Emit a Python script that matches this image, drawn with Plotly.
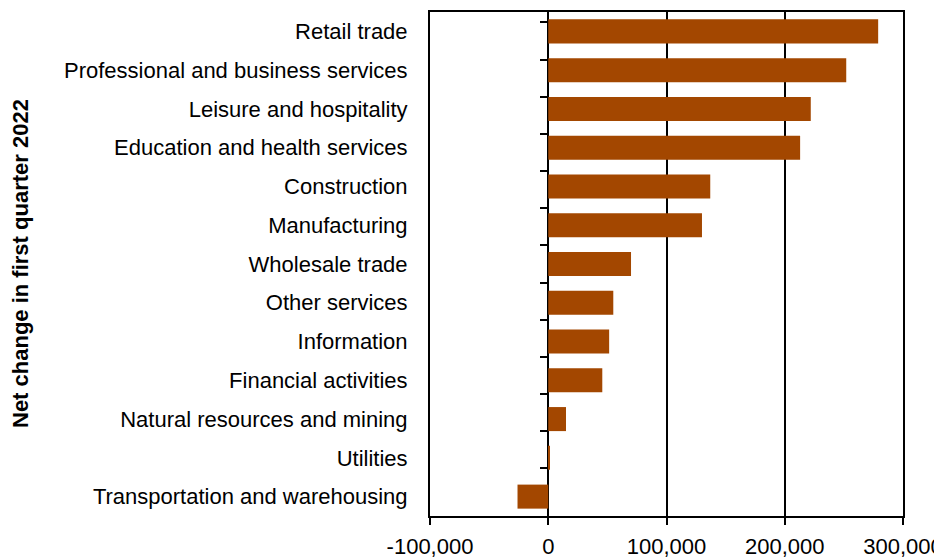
import plotly.graph_objects as go

categories = [
    "Retail trade",
    "Professional and business services",
    "Leisure and hospitality",
    "Education and health services",
    "Construction",
    "Manufacturing",
    "Wholesale trade",
    "Other services",
    "Information",
    "Financial activities",
    "Natural resources and mining",
    "Utilities",
    "Transportation and warehousing",
]
net_change = [279000, 252000, 222000, 213000, 137000, 130000, 70000,
              55000, 51500, 45700, 15000, 1000, -26000]
x_tick_vals = [-100000, 0, 100000, 200000, 300000]
x_tick_text = ["-100,000", "0", "100,000", "200,000", "300,000"]
y_title = "Net change in first quarter 2022"

FONT = "Liberation Sans, Arial, sans-serif"
BAR_COLOR = "#A34700"

# the page body has a default 8px margin, so the figure is offset by 8px
OFF = 8
W, H = 942 - OFF, 560 - OFF
L, T = 430 - OFF, 12 - OFF
R, B = 39, 44
plot_w = W - L - R

fig = go.Figure()
fig.add_trace(go.Bar(
    x=net_change, y=categories, orientation="h",
    marker=dict(color=BAR_COLOR, line=dict(width=0)),
    hoverinfo="x+y", showlegend=False,
))
# invisible trace to drive the tick axis drawn at the zero line
fig.add_trace(go.Scatter(
    x=[0] * len(categories), y=categories, yaxis="y2",
    mode="markers", marker=dict(opacity=0), hoverinfo="skip", showlegend=False,
))

fig.update_layout(
    width=W, height=H,
    margin=dict(l=L, r=R, t=T, b=B, autoexpand=False),
    paper_bgcolor="white", plot_bgcolor="white",
    font=dict(family=FONT, size=22, color="black"),
    bargap=0.38,
    xaxis=dict(
        range=[-100000, 300000], tickvals=x_tick_vals, ticktext=x_tick_text,
        showgrid=True, gridcolor="black", gridwidth=1.5,
        zeroline=True, zerolinecolor="black", zerolinewidth=2,
        showline=True, linecolor="black", linewidth=2, mirror=True,
        ticks="outside", ticklen=7, tickwidth=2, tickcolor="black",
        tickfont=dict(size=22), automargin=False, fixedrange=True,
        ticklabeloverflow="allow", ticklabelstandoff=3,
    ),
    yaxis=dict(
        type="category", categoryorder="array", categoryarray=categories,
        autorange="reversed",
        showgrid=False, zeroline=False,
        showline=True, linecolor="black", linewidth=2, mirror=True,
        ticks="", ticklabelstandoff=16, automargin=False,
        tickfont=dict(size=22),
    ),
    yaxis2=dict(
        type="category", categoryorder="array", categoryarray=categories,
        autorange="reversed", overlaying="y", anchor="free", position=0.25,
        side="left", showgrid=False, zeroline=False, showline=False,
        ticks="outside", tickson="boundaries", ticklen=8, tickwidth=2,
        tickcolor="black", showticklabels=False, automargin=False,
    ),
    annotations=[dict(
        text="<b>" + y_title + "</b>", textangle=-90,
        xref="paper", yref="paper", x=(20 - OFF - L) / plot_w, y=0.5,
        xanchor="center", yanchor="middle", showarrow=False,
        font=dict(size=22),
    )],
)

fig.write_html("out.html")
